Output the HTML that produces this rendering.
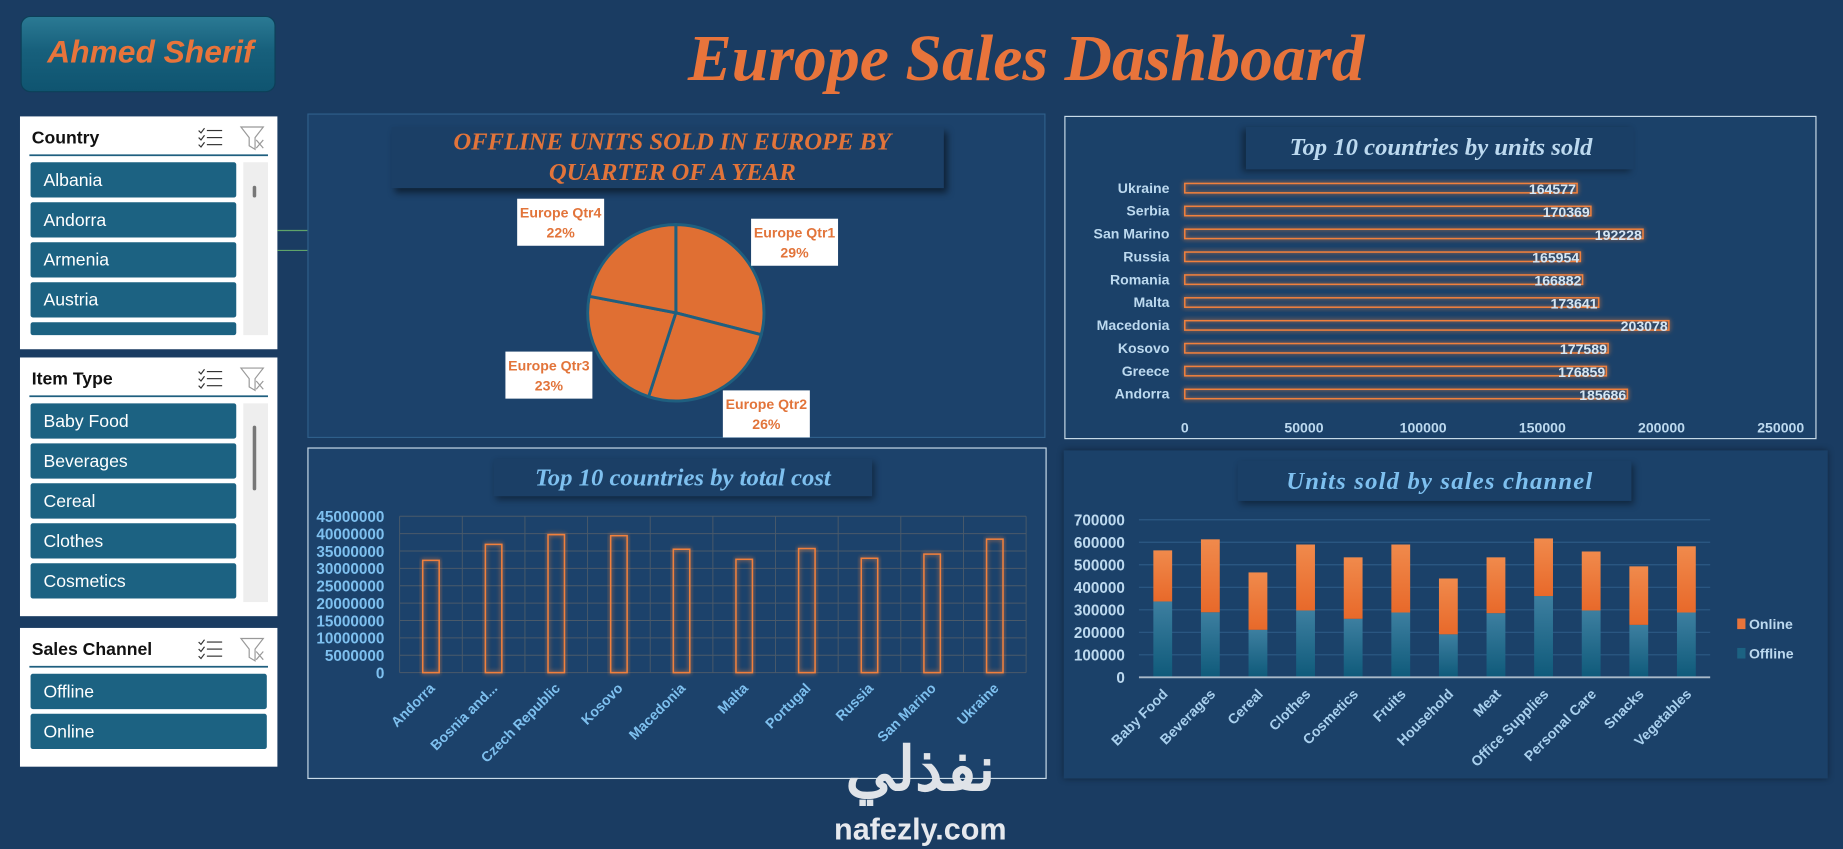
<!DOCTYPE html>
<html><head><meta charset="utf-8"><style>
html,body{margin:0;padding:0;background:#1a3c62;overflow:hidden}
svg{display:block}
text{font-family:"Liberation Sans","Noto Sans CJK SC",sans-serif}
.ser{font-family:"Liberation Serif",serif}
</style></head><body>
<svg id="dash" width="1843" height="849" viewBox="0 0 1568 722" preserveAspectRatio="none" xmlns="http://www.w3.org/2000/svg">
<defs>
<linearGradient id="btnG" x1="0" y1="0" x2="0" y2="1"><stop offset="0" stop-color="#2b7a94"/><stop offset="0.45" stop-color="#17607c"/><stop offset="1" stop-color="#0f5470"/></linearGradient>
<linearGradient id="offG" x1="0" y1="0" x2="0" y2="1"><stop offset="0" stop-color="#3d7fa0"/><stop offset="1" stop-color="#0f5a7a"/></linearGradient>
<linearGradient id="onG" x1="0" y1="0" x2="0" y2="1"><stop offset="0" stop-color="#f08a4c"/><stop offset="1" stop-color="#e8692a"/></linearGradient>
<filter id="glow" x="-20%" y="-50%" width="140%" height="200%"><feGaussianBlur stdDeviation="2" result="b"/><feMerge><feMergeNode in="b"/><feMergeNode in="SourceGraphic"/></feMerge></filter>
</defs>
<rect width="1568" height="722" fill="#1a3c62"/>

<g>
<rect x="18" y="14" width="216" height="64" rx="8" fill="url(#btnG)" stroke="#0d3f58"/>
<text x="128" y="53" text-anchor="middle" font-size="27" font-weight="bold" font-style="italic" fill="#e8743b">Ahmed Sherif</text>
</g>
<text class="ser" x="873" y="68" text-anchor="middle" font-size="56" font-weight="bold" font-style="italic" fill="#e8743b">Europe Sales Dashboard</text>

<g id="slicers"></g>

<line x1="236" y1="196" x2="262" y2="196" stroke="#5fa36a" stroke-width="1"/>
<line x1="236" y1="213" x2="262" y2="213" stroke="#5fa36a" stroke-width="1"/>

<g>
<rect x="262" y="97" width="627" height="275" fill="#1c426b" stroke="#2f5f8a"/>
<rect x="333" y="108" width="470" height="52" fill="#1b3f66" style="filter:drop-shadow(3px 4px 3px rgba(0,0,0,0.5))"/>
<text class="ser" x="572" y="127" text-anchor="middle" font-size="21" font-weight="bold" font-style="italic" fill="#e2743a">OFFLINE UNITS SOLD IN EUROPE BY</text>
<text class="ser" x="572" y="153" text-anchor="middle" font-size="21" font-weight="bold" font-style="italic" fill="#e2743a">QUARTER OF A YEAR</text>
<g id="pie"></g>
</g>

<g>
<rect x="906" y="99" width="639" height="274" fill="#1b4169" stroke="#c9dbe9"/>
<rect x="1060" y="108" width="330" height="36" fill="#1a3f66" style="filter:drop-shadow(-3px 2px 3px rgba(0,0,0,0.4))"/>
<text class="ser" x="1226" y="132" text-anchor="middle" font-size="21" font-weight="bold" font-style="italic" fill="#bcd9ef">Top 10 countries by units sold</text>
<g id="units"></g>
</g>

<g>
<rect x="262" y="381" width="628" height="281" fill="#1c426b" stroke="#c9dbe9"/>
<rect x="420" y="390" width="322" height="32" fill="#1b3f66" style="filter:drop-shadow(2px 3px 3px rgba(0,0,0,0.4))"/>
<text class="ser" x="581" y="413" text-anchor="middle" font-size="21" font-weight="bold" font-style="italic" fill="#7ec0ef">Top 10 countries by total cost</text>
<g id="cost"></g>
</g>

<g>
<rect x="905" y="383" width="650" height="279" fill="#1b4169" style="filter:drop-shadow(0 0 3px rgba(0,0,0,0.4))"/>
<rect x="1053" y="392" width="335" height="34" fill="#1a3f66" style="filter:drop-shadow(2px 3px 3px rgba(0,0,0,0.4))"/>
<text class="ser" x="1225" y="416" text-anchor="middle" font-size="21" font-weight="bold" font-style="italic" fill="#7ec0ef" letter-spacing="1">Units sold by sales channel</text>
<g id="chan"></g>
</g>

<text x="783" y="672" text-anchor="middle" font-size="52" font-weight="bold" fill="#dfe3e8" font-family="'Noto Sans CJK SC','DejaVu Sans',sans-serif">نفذلي</text>
<text x="783" y="714" text-anchor="middle" font-size="26" font-weight="bold" fill="#e6e9ee">nafezly.com</text>
</svg>
<script>
const NS="http://www.w3.org/2000/svg";
function mk(p,t,a,txt){const e=document.createElementNS(NS,t);for(const k in a)e.setAttribute(k,a[k]);if(txt!==undefined)e.textContent=txt;p.appendChild(e);return e;}

const pieLabels=["Europe Qtr1","Europe Qtr2","Europe Qtr3","Europe Qtr4"];
const pieValues=[29,26,23,22];
const unitCountries=["Ukraine","Serbia","San Marino","Russia","Romania","Malta","Macedonia","Kosovo","Greece","Andorra"];
const unitValues=[164577,170369,192228,165954,166882,173641,203078,177589,176859,185686];
const unitTicks=[0,50000,100000,150000,200000,250000];
const costCountries=["Andorra","Bosnia and...","Czech Republic","Kosovo","Macedonia","Malta","Portugal","Russia","San Marino","Ukraine"];
const costValues=[32300000,36900000,39700000,39400000,35500000,32600000,35700000,32900000,34100000,38400000];
const costTicks=[0,5000000,10000000,15000000,20000000,25000000,30000000,35000000,40000000,45000000];
const itemTypes=["Baby Food","Beverages","Cereal","Clothes","Cosmetics","Fruits","Household","Meat","Office Supplies","Personal Care","Snacks","Vegetables"];
const offlineValues=[337000,289000,211000,297000,260000,288000,191000,285000,361000,297000,233000,288000];
const onlineValues=[227000,324000,255000,293000,273000,302000,248000,248000,256000,262000,260000,294000];
const chanTicks=[0,100000,200000,300000,400000,500000,600000,700000];

const sl=document.getElementById('slicers');
function slicer(y,h,title,items,scroll){
  const g=mk(sl,'g',{});
  
  
  mk(g,'rect',{x:17,y:y,width:219,height:h,fill:'#ffffff'});
  mk(g,'text',{x:27,y:y+23,'font-size':15,'font-weight':'bold',fill:'#111'},title);
  const ms=mk(g,'g',{});
  
  
  for(let k=0;k<3;k++){
    mk(ms,'path',{d:`M169 ${y+12+k*6} l2 2 l3 -4`,stroke:'#333',fill:'none','stroke-width':1});
    mk(ms,'line',{x1:176,y1:y+12+k*6,x2:189,y2:y+12+k*6,stroke:'#333','stroke-width':1});
  }
  const cf=mk(g,'g',{});
  
  
  mk(cf,'path',{d:`M205 ${y+9} h19 l-7 9 v10 l-5 -3 v-7 z`,stroke:'#999',fill:'none','stroke-width':1});
  mk(cf,'path',{d:`M218 ${y+20} l6 7 M224 ${y+20} l-6 7`,stroke:'#999','stroke-width':1});
  mk(g,'line',{x1:25,y1:y+33,x2:228,y2:y+33,stroke:'#1f5f7f','stroke-width':1.5});
  const bw=scroll?175:201;
  const maxY=y+h-12;
  items.forEach((it,i)=>{
    const by=y+39+i*34;
    if(by>=maxY)return;
    const hh=Math.min(30,maxY-by);
    const b=mk(g,'g',{});
    
    
    mk(b,'rect',{x:26,y:by,width:bw,height:hh,rx:2,fill:'#1c6282'});
    if(hh>20)mk(b,'text',{x:37,y:by+20,'font-size':15,fill:'#fff'},it);
  });
  if(scroll){
    const s=mk(g,'rect',{x:207,y:y+39,width:21,height:h-51,fill:'#eeeeee'});
    
    
    mk(g,'rect',{x:215,y:scroll[0],width:3,height:scroll[1],rx:1.5,fill:'#777'});
  }
}
slicer(99,198,'Country',["Albania","Andorra","Armenia","Austria","Belarus"],[158,10]);
slicer(304,220,'Item Type',["Baby Food","Beverages","Cereal","Clothes","Cosmetics","Fruits"],[362,55]);
slicer(534,118,'Sales Channel',["Offline","Online"],null);

const pg=document.getElementById('pie');
const cx=575,cy=266,r=75;
const tot=pieValues.reduce((a,b)=>a+b,0);
let a0=0;
const labelPos=[[676,205],[652,351],[467,318],[477,188]];
pieValues.forEach((v,i)=>{
  const a1=a0+v/tot*2*Math.PI;
  const x0=cx+r*Math.sin(a0),y0=cy-r*Math.cos(a0),x1=cx+r*Math.sin(a1),y1=cy-r*Math.cos(a1);
  const p=mk(pg,'path',{d:`M${cx},${cy} L${x0},${y0} A${r},${r} 0 ${a1-a0>Math.PI?1:0} 1 ${x1},${y1} Z`,fill:'#e06f33',stroke:'#1f5f7f','stroke-width':2.5});
  
  
  const [lx,ly]=labelPos[i];
  const lg=mk(pg,'g',{});
  
  
  mk(lg,'rect',{x:lx-37,y:ly-19,width:74,height:40,fill:'#fff'});
  mk(lg,'text',{x:lx,y:ly-3,'text-anchor':'middle','font-size':12,'font-weight':'bold',fill:'#e2743a'},pieLabels[i]);
  mk(lg,'text',{x:lx,y:ly+14,'text-anchor':'middle','font-size':12,'font-weight':'bold',fill:'#e2743a'},v+'%');
  a0=a1;
});

const ug=document.getElementById('units');
const ux0=1008,ux1=1515,uMax=250000;
const ux=v=>ux0+(v/uMax)*(ux1-ux0);
const uy=i=>160+i*19.45;
unitTicks.forEach(t=>{
  const e=mk(ug,'text',{x:ux(t),y:368,'text-anchor':'middle','font-size':12,'font-weight':'bold',fill:'#bcd9ef'},t);
  
  
});
unitCountries.forEach((c,i)=>{
  const y=uy(i);
  const l=mk(ug,'text',{x:995,y:y+4,'text-anchor':'end','font-size':12,'font-weight':'bold',fill:'#bcd9ef'},c);
  
  
  const b=mk(ug,'rect',{x:ux0,y:y-4,width:ux(unitValues[i])-ux0,height:8,fill:'none',stroke:'#f0803c','stroke-width':1.3,filter:'url(#glow)'});
  
  
  const v=mk(ug,'text',{x:ux(unitValues[i])-1,y:y+5,'text-anchor':'end','font-size':12,'font-weight':'bold',fill:'#d6e6f3'},unitValues[i]);
  
  
});

const cg=document.getElementById('cost');
const px0=340,px1=873,py0=572,py1=439,cMax=45000000;
const cyS=v=>py0-(v/cMax)*(py0-py1);
const cw=(px1-px0)/costCountries.length;
costTicks.forEach(t=>{
  mk(cg,'line',{x1:px0,y1:cyS(t),x2:px1,y2:cyS(t),stroke:'#4a5a6a','stroke-width':0.8});
  const e=mk(cg,'text',{x:327,y:cyS(t)+5,'text-anchor':'end','font-size':13,'font-weight':'bold',fill:'#7ec0ef'},t);
  
  
});
for(let i=0;i<=costCountries.length;i++)mk(cg,'line',{x1:px0+i*cw,y1:py1,x2:px0+i*cw,y2:py0,stroke:'#4a5a6a','stroke-width':0.8});
costCountries.forEach((c,i)=>{
  const xc=px0+cw*(i+0.5);
  const b=mk(cg,'rect',{x:xc-7,y:cyS(costValues[i]),width:14,height:py0-cyS(costValues[i]),fill:'none',stroke:'#f0803c','stroke-width':1.3,filter:'url(#glow)'});
  
  
  const l=mk(cg,'text',{x:xc+4,y:py0+14,'text-anchor':'end','font-size':12,'font-weight':'bold',fill:'#7ec0ef',transform:`rotate(-45 ${xc+4} ${py0+14})`},c);
  
  
});

const hg=document.getElementById('chan');
const hx0=969,hx1=1455,hy0=576,hy1=442,hMax=700000;
const hy=v=>hy0-(v/hMax)*(hy0-hy1);
const hw=(hx1-hx0)/itemTypes.length;
chanTicks.forEach(t=>{
  if(t>0)mk(hg,'line',{x1:hx0,y1:hy(t),x2:hx1,y2:hy(t),stroke:'#2d5a85','stroke-width':1});
  const e=mk(hg,'text',{x:957,y:hy(t)+5,'text-anchor':'end','font-size':13,'font-weight':'bold',fill:'#bcd9ef'},t);
  
  
});
itemTypes.forEach((c,i)=>{
  const xc=hx0+hw*(i+0.5);
  const off=offlineValues[i],on=onlineValues[i];
  const b1=mk(hg,'rect',{x:xc-8,y:hy(off),width:16,height:hy0-hy(off),fill:'url(#offG)'});
  
  
  const b2=mk(hg,'rect',{x:xc-8,y:hy(off+on),width:16,height:hy(off)-hy(off+on),fill:'url(#onG)'});
  
  
  const l=mk(hg,'text',{x:xc+5,y:hy0+15,'text-anchor':'end','font-size':12,'font-weight':'bold',fill:'#a9d0ee',transform:`rotate(-45 ${xc+5} ${hy0+15})`},c);
  
  
});
mk(hg,'line',{x1:hx0,y1:hy0,x2:hx1,y2:hy0,stroke:'#a9b9c9','stroke-width':1.5});
const lg1=mk(hg,'g',{});


mk(lg1,'rect',{x:1478,y:526,width:7,height:9,fill:'#e8743b'});
mk(lg1,'text',{x:1488,y:535,'font-size':12,'font-weight':'bold',fill:'#bcd9ef'},'Online');
const lg2=mk(hg,'g',{});


mk(lg2,'rect',{x:1478,y:551,width:7,height:9,fill:'#1c6282'});
mk(lg2,'text',{x:1488,y:560,'font-size':12,'font-weight':'bold',fill:'#bcd9ef'},'Offline');
</script>
</body></html>
